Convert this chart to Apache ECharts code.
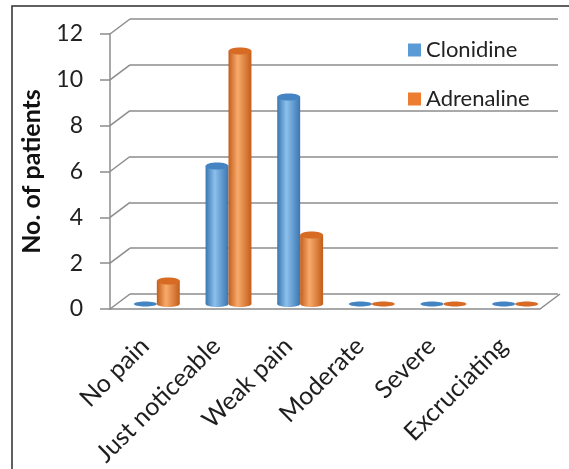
<!DOCTYPE html>
<html>
<head>
<meta charset="utf-8">
<script src="https://cdn.jsdelivr.net/npm/echarts@6/dist/echarts.min.js"></script>
<style>
  html, body { margin: 0; padding: 0; background: #fff; }
  #chart { width: 569px; height: 469px; }
</style>
</head>
<body>
<div id="chart"></div>
<script>
// data
const categories = ['No pain', 'Just noticeable', 'Weak pain', 'Moderate', 'Severe', 'Excruciating'];
const clonidine = [0, 6, 9, 0, 0, 0];
const adrenaline = [1, 11, 3, 0, 0, 0];
const yTicks = [0, 2, 4, 6, 8, 10, 12];

const FONT = 'Lato, "Open Sans", sans-serif';
const LINE = '#8c8c8c';
const DX = 20, DY = -15;   // depth offset of the back wall

const palette = {
  Clonidine: { main: '#5b9bd5', light: '#8cc0ec', dark: '#3a76b2', top: '#4584c2' },
  Adrenaline: { main: '#ed7d31', light: '#f8ab6c', dark: '#c35d1a', top: '#d86b24' }
};

// draws one cylinder per data item
const cylinder = (name, side) => (params, api) => {
  const c = palette[name];
  const idx = api.value(0);
  const v = api.value(1);
  const band = api.size([1, 0])[0];
  const w = band * 0.32;
  const base = api.coord([idx, 0]);
  const top = api.coord([idx, v]);
  const cx = base[0] + side * band * 0.16;
  if (v === 0) {
    return { type: 'ellipse', shape: { cx: cx, cy: base[1], rx: w / 2, ry: 2.5 }, style: { fill: c.top } };
  }
  const grad = new echarts.graphic.LinearGradient(0, 0, 1, 0, [
    { offset: 0, color: c.dark },
    { offset: 0.4, color: c.light },
    { offset: 1, color: c.dark }
  ]);
  return {
    type: 'group',
    children: [
      { type: 'ellipse', shape: { cx: cx, cy: base[1], rx: w / 2, ry: 3 }, style: { fill: grad } },
      { type: 'rect', shape: { x: cx - w / 2, y: top[1], width: w, height: base[1] - top[1] }, style: { fill: grad } },
      { type: 'ellipse', shape: { cx: cx, cy: top[1], rx: w / 2, ry: 3.5 }, style: { fill: c.top } }
    ]
  };
};

const myChart = echarts.init(document.getElementById('chart'));
myChart.setOption({
  animation: false,
  textStyle: { fontFamily: FONT },
  graphic: [{
    type: 'rect', z: -1,
    shape: { x: 12, y: 6, width: 640, height: 540 },
    style: { fill: null, stroke: '#2e2e2e', lineWidth: 1.5 }
  }],
  legend: {
    orient: 'vertical',
    left: 403, top: 34,
    icon: 'rect', itemWidth: 13, itemHeight: 13, itemGap: 27, itemTextGap: 8,
    textStyle: { fontSize: 22, color: '#222', fontFamily: FONT },
    data: ['Clonidine', 'Adrenaline']
  },
  grid: [
    { left: 121, top: 28, width: 430, height: 276 },   // bars
    { left: 130, top: 19, width: 428, height: 275 },   // back wall
    { left: 110, top: 34, width: 430, height: 275 },   // front axis + floor edge
    { left: 109, top: 34, width: 430, height: 275 }    // category labels
  ],
  xAxis: [
    { gridIndex: 0, type: 'category', data: categories, show: false },
    { gridIndex: 1, type: 'value', min: 0, max: 6, show: false },
    {
      gridIndex: 2, type: 'value', min: 0, max: 6,
      axisLine: { show: true, lineStyle: { color: LINE, width: 1.5 } },
      axisTick: { show: false }, axisLabel: { show: false }, splitLine: { show: false }
    },
    {
      gridIndex: 3, type: 'category', data: categories,
      axisLine: { show: false }, axisTick: { show: false },
      axisLabel: { rotate: 45, margin: 34, fontSize: 25, color: '#1e1e1e', fontFamily: FONT, interval: 0 }
    }
  ],
  yAxis: [
    { gridIndex: 0, type: 'value', min: 0, max: 12, interval: 2, show: false },
    {
      gridIndex: 1, type: 'value', min: 0, max: 12, interval: 2,
      axisLine: { show: false }, axisTick: { show: false }, axisLabel: { show: false },
      splitLine: { show: true, lineStyle: { color: LINE, width: 1.5 } }
    },
    {
      gridIndex: 2, type: 'value', min: 0, max: 12, interval: 2,
      name: 'No. of patients', nameLocation: 'middle', nameGap: 66,
      nameTextStyle: { fontSize: 25, fontWeight: 'bold', color: '#111', fontFamily: FONT },
      axisLine: { show: true, lineStyle: { color: LINE, width: 1.5 } },
      axisTick: { show: true, length: 10, lineStyle: { color: LINE, width: 1.5 } },
      axisLabel: { margin: 27, fontSize: 23, color: '#222', fontFamily: FONT },
      splitLine: { show: false }
    },
    { gridIndex: 3, type: 'value', min: 0, max: 12, show: false }
  ],
  series: [
    {
      // diagonal edges joining the front axis to the back wall
      type: 'custom', xAxisIndex: 2, yAxisIndex: 2, silent: true, z: 1,
      data: yTicks.map(v => [0, v]).concat([[6, 0]]),
      renderItem: (params, api) => {
        const p = api.coord([api.value(0), api.value(1)]);
        return {
          type: 'line',
          shape: { x1: p[0], y1: p[1], x2: p[0] + DX, y2: p[1] + DY },
          style: { stroke: LINE, lineWidth: 1.5 }
        };
      }
    },
    {
      name: 'Clonidine', type: 'custom', xAxisIndex: 0, yAxisIndex: 0, z: 3,
      itemStyle: { color: palette.Clonidine.main },
      data: clonidine.map((v, i) => [i, v]),
      renderItem: cylinder('Clonidine', -1)
    },
    {
      name: 'Adrenaline', type: 'custom', xAxisIndex: 0, yAxisIndex: 0, z: 3,
      itemStyle: { color: palette.Adrenaline.main },
      data: adrenaline.map((v, i) => [i, v]),
      renderItem: cylinder('Adrenaline', 1)
    }
  ]
});
</script>
</body>
</html>
